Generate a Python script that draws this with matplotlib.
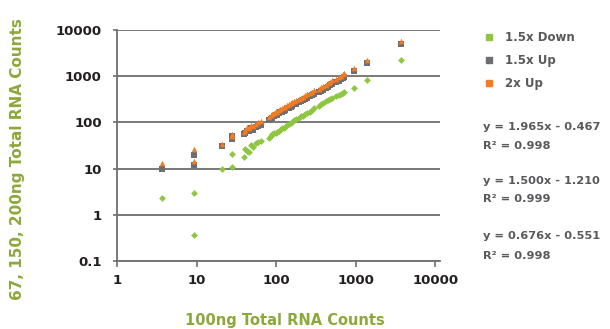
import numpy as np
import matplotlib
matplotlib.use("Agg")
import matplotlib.pyplot as plt
from matplotlib.lines import Line2D

# 100ng counts (x) shared by all three series
x100 = [3.7, 9.3, 9.3, 21, 28, 28, 40, 41, 43, 46, 49, 52, 56, 60, 64,
        82, 86, 90, 95, 100, 104, 108, 113, 118, 124, 130, 137, 144, 152, 160,
        170, 180, 192, 205, 218, 232, 248, 265, 285, 300, 345, 365, 390, 420,
        450, 480, 510, 560, 610, 650, 690, 720, 950, 1400, 3700]

# 2x Up
up2 = [13.5, 27, 14.5, 34, 57, 50, 62, 70, 80, 75, 88, 82, 92, 100, 105,
       130, 145, 150, 160, 175, 170, 190, 195, 205, 215, 220, 240, 250, 262, 270,
       290, 300, 320, 345, 360, 385, 410, 430, 455, 500, 540, 580, 610, 650,
       700, 760, 810, 880, 950, 1020, 1100, 1150, 1500, 2200, 5800]

# 1.5x Up
up15 = [10, 20, 12, 31, 50, 44, 55, 58, 66, 64, 74, 70, 78, 84, 90,
        110, 120, 125, 135, 148, 145, 158, 165, 172, 180, 186, 200, 210, 220, 228,
        245, 252, 270, 290, 305, 325, 345, 365, 385, 420, 460, 490, 515, 550,
        590, 640, 690, 740, 800, 860, 930, 970, 1300, 1950, 5000]

# 1.5x Down
down15 = [2.35, 2.9, 0.37, 9.6, 10.7, 21, 17.7, 27, 24, 22.5, 33, 30, 36, 37, 40,
          45, 52, 55, 58, 60, 63, 66, 70, 74, 76, 80, 86, 92, 98, 104,
          112, 118, 125, 135, 140, 150, 160, 172, 185, 200, 230, 250, 268, 285,
          300, 320, 340, 380, 400, 420, 440, 460, 550, 820, 2200]

labels = ["1.5x Down", "1.5x Up", "2x Up"]
equations = [("y = 1.965x - 0.467", "R\u00b2 = 0.998"),
             ("y = 1.500x - 1.210", "R\u00b2 = 0.999"),
             ("y = 0.676x - 0.551", "R\u00b2 = 0.998")]

green = "#8dc63f"
gray = "#6d6e71"
orange = "#f47b20"
label_green = "#8ca83a"
text_gray = "#58595b"

plt.rcParams['font.family'] = ['DejaVu Sans']
fig = plt.figure(figsize=(6.1, 3.29), dpi=100)
ax = fig.add_axes([117/610, 1-261/329, 323/610, 231/329])

ax.scatter(x100, down15, marker='D', s=12, color=green, linewidths=0, zorder=3)
ax.scatter(x100, up15, marker='s', s=14, color=gray, linewidths=0, zorder=4)
ax.scatter(x100, up2, marker='^', s=16, color=orange, linewidths=0, zorder=5)

ax.set_xscale('log')
ax.set_yscale('log')
ax.set_xlim(1, 11500)
ax.set_ylim(0.1, 10000)
ax.set_xticks([1, 10, 100, 1000, 10000])
ax.set_xticklabels(["1", "10", "100", "1000", "10000"])
ax.set_yticks([0.1, 1, 10, 100, 1000, 10000])
ax.set_yticklabels(["0.1", "1", "10", "100", "1000", "10000"])
ax.minorticks_off()
ax.grid(axis='y', color=gray, lw=1.3)
ax.set_axisbelow(True)
for s in ['top', 'right']:
    ax.spines[s].set_visible(False)
for s in ['left', 'bottom']:
    ax.spines[s].set_color(gray)
    ax.spines[s].set_linewidth(1.3)
ax.tick_params(axis='x', length=4, width=1.2, color=gray, pad=5,
               labelsize=9.5, labelcolor='#231f20')
ax.tick_params(axis='y', length=3, width=1.2, color=gray, pad=8,
               labelsize=9.5, labelcolor='#231f20')
for t in ax.get_xticklabels() + ax.get_yticklabels():
    t.set_fontweight('bold')

fig.text(285/610, 1-320/329, "100ng Total RNA Counts", ha='center', va='center',
         color=label_green, fontsize=10.5, fontweight='bold')
fig.text(18/610, 1-159/329, "67, 150, 200ng Total RNA Counts", ha='center', va='center',
         rotation=90, color=label_green, fontsize=11, fontweight='bold')

handles = [Line2D([], [], marker='s', ls='', color=c, markersize=4)
           for c in [green, gray, orange]]
leg = fig.legend(handles, labels, loc='upper left', bbox_to_anchor=(483/610, 1-31/329),
                 frameon=False, handlelength=1.0, handletextpad=0.9,
                 labelspacing=0.85, borderpad=0, borderaxespad=0,
                 prop={'size': 8.5, 'weight': 'bold'})
for t in leg.get_texts():
    t.set_color(text_gray)

eq_y = [(127, 146), (181, 199), (236, 256)]
for (eq, r2), (y1, y2) in zip(equations, eq_y):
    fig.text(483/610, 1-y1/329, eq, ha='left', va='center', color=text_gray,
             fontsize=8.2, fontweight='bold')
    fig.text(483/610, 1-y2/329, r2, ha='left', va='center', color=text_gray,
             fontsize=8.2, fontweight='bold')

fig.savefig("out.png", dpi=100)
